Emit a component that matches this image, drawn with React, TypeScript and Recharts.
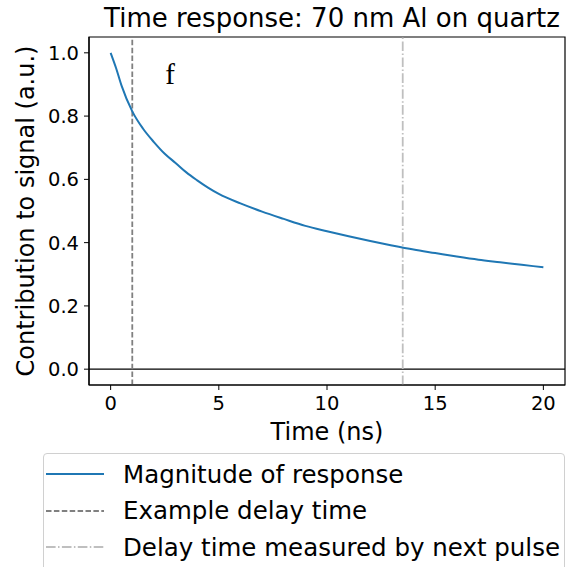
import {
  LineChart,
  Line,
  XAxis,
  YAxis,
  ReferenceLine,
  ReferenceDot,
  ReferenceArea,
} from "recharts";

// time (ns) and relative magnitude
const times = [0, 0.25, 0.5, 1, 1.5, 2, 2.5, 3, 3.5, 4, 4.5, 5, 6, 7, 8, 9, 10, 11, 12, 13, 14, 15, 16, 17, 18, 19, 20];
const magnitude = [
  1.0, 0.952, 0.897, 0.815, 0.76, 0.718, 0.681, 0.652, 0.622, 0.597, 0.574, 0.554, 0.524, 0.498, 0.475, 0.453,
  0.436, 0.42, 0.405, 0.391, 0.378, 0.367, 0.356, 0.346, 0.338, 0.33, 0.322,
];
const xTicks = [0, 5, 10, 15, 20];
const yTicks = [0, 0.2, 0.4, 0.6, 0.8, 1.0];
const exampleDelay = 1;
const nextPulseDelay = 13.5;

const legendItems = [
  { label: "Magnitude of response", color: "#1f77b4", dash: undefined },
  { label: "Example delay time", color: "#808080", dash: "5.5 2.4" },
  { label: "Delay time measured by next pulse", color: "#bfbfbf", dash: "9.6 2.4 1.5 2.4" },
];

const font = "'DejaVu Sans', sans-serif";

export default function App() {
  const data = times.map((t, i) => ({ t, m: magnitude[i] }));

  return (
    <div style={{ position: "absolute", left: 0, top: 0, width: 577, height: 567, background: "#fff", fontFamily: font, overflow: "hidden" }}>
      <div
        style={{
          position: "absolute",
          left: 94,
          width: 476,
          top: 3,
          textAlign: "center",
          fontSize: 26,
          color: "#000",
          whiteSpace: "nowrap",
        }}
      >
        Time response: 70 nm Al on quartz
      </div>
      <LineChart width={577} height={567} data={data} margin={{ top: 37, right: 12, bottom: 122, left: 0 }}>
        <XAxis
          dataKey="t"
          type="number"
          domain={[-1, 21]}
          ticks={xTicks}
          allowDataOverflow
          axisLine={{ stroke: "#000", strokeWidth: 1.2 }}
          tickLine={{ stroke: "#000" }}
          tickSize={5}
          tick={{ fill: "#000", fontSize: 19.5, fontFamily: font, dy: 4 }}
          height={60}
          label={{ value: "Time (ns)", position: "insideBottom", offset: 5, fill: "#000", fontSize: 24, fontFamily: font }}
        />
        <YAxis
          type="number"
          domain={[-0.05, 1.05]}
          ticks={yTicks}
          allowDataOverflow
          width={89}
          axisLine={{ stroke: "#000", strokeWidth: 1.2 }}
          tickLine={{ stroke: "#000" }}
          tickSize={5}
          tickFormatter={(v: number) => v.toFixed(1)}
          tick={{ fill: "#000", fontSize: 19.5, fontFamily: font, dx: -3 }}
          label={{
            value: "Contribution to signal (a.u.)",
            angle: -90,
            position: "insideLeft",
            offset: 25,
            style: { textAnchor: "middle" },
            fill: "#000",
            fontSize: 24,
            fontFamily: font,
          }}
        />
        <ReferenceArea x1={-1} x2={21} y1={-0.05} y2={1.05} fill="none" stroke="#000" strokeWidth={1.2} />
        <ReferenceLine y={0} stroke="#000" strokeWidth={1.2} />
        <ReferenceLine x={exampleDelay} stroke="#808080" strokeWidth={1.8} strokeDasharray="5.5 2.4" />
        <ReferenceLine x={nextPulseDelay} stroke="#bfbfbf" strokeWidth={1.8} strokeDasharray="9.6 2.4 1.5 2.4" />
        <ReferenceDot
          x={2.75}
          y={0.935}
          r={0}
          label={{ value: "f", position: "center", fill: "#000", fontSize: 29, fontFamily: "'Liberation Serif', serif" }}
        />
        <Line type="monotone" dataKey="m" stroke="#1f77b4" strokeWidth={2} dot={false} isAnimationActive={false} />
      </LineChart>
      <div
        style={{
          position: "absolute",
          left: 43,
          top: 453,
          width: 522,
          height: 130,
          border: "1px solid #d0d0d0",
          borderRadius: 4,
          background: "#fff",
          boxSizing: "border-box",
        }}
      >
        {legendItems.map((it, i) => (
          <div key={it.label} style={{ position: "absolute", left: 0, top: 5 + i * 36.5, height: 30, display: "flex", alignItems: "center" }}>
            <svg width={70} height={10} style={{ marginLeft: 2 }}>
              <line x1={0} y1={5} x2={58} y2={5} stroke={it.color} strokeWidth={2} strokeDasharray={it.dash} />
            </svg>
            <span style={{ fontSize: 24.5, color: "#000", marginLeft: 7, whiteSpace: "nowrap" }}>{it.label}</span>
          </div>
        ))}
      </div>
    </div>
  );
}
